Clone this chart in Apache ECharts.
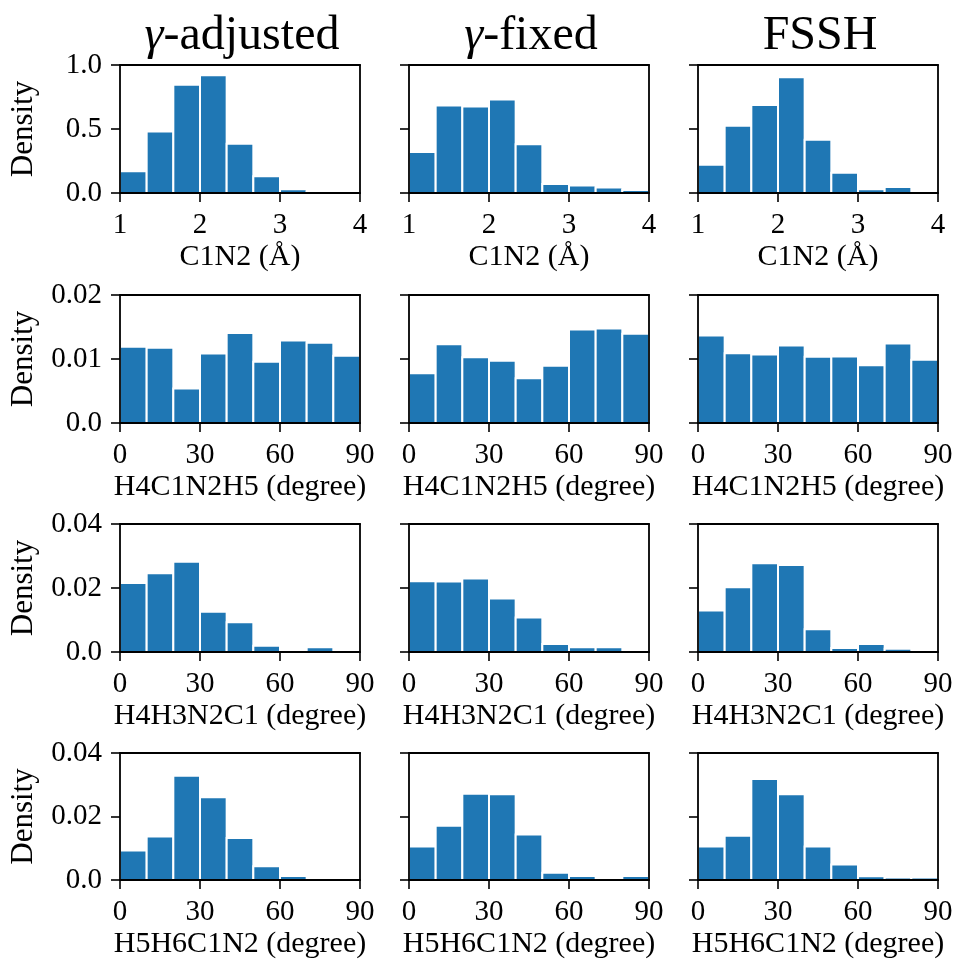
<!DOCTYPE html>
<html><head><meta charset="utf-8">
<script src="https://cdn.jsdelivr.net/npm/echarts@6/dist/echarts.min.js"></script>
<style>html,body{margin:0;padding:0;background:#fff}#c{width:956px;height:960px}</style>
</head><body><div id="c"></div>
<script>
// ---- data ----
var methods = ['γ-adjusted', 'γ-fixed', 'FSSH'];
var xNames = ['C1N2 (Å)', 'H4C1N2H5 (degree)', 'H4H3N2C1 (degree)', 'H5H6C1N2 (degree)'];
var edgesBond = [1, 1.3333, 1.6667, 2, 2.3333, 2.6667, 3, 3.3333, 3.6667, 4];
var edgesAngle = [0, 10, 20, 30, 40, 50, 60, 70, 80, 90];
var xTicksBond = [1, 2, 3, 4];
var xTicksAngle = [0, 30, 60, 90];
var yTicksR1 = ['0.0', '0.5', '1.0'];
var yTicksR2 = ['0.0', '0.01', '0.02'];
var yTicksR3 = ['0.0', '0.02', '0.04'];
var yTicksR4 = ['0.0', '0.02', '0.04'];

var c1n2_adjusted = [0.17, 0.48, 0.845, 0.92, 0.385, 0.13, 0.03, 0.01, 0];
var c1n2_fixed    = [0.32, 0.684, 0.676, 0.73, 0.38, 0.07, 0.058, 0.042, 0.024];
var c1n2_fssh     = [0.22, 0.526, 0.687, 0.905, 0.416, 0.158, 0.03, 0.047, 0];

var h4c1n2h5_adjusted = [0.0119, 0.01175, 0.0054, 0.01086, 0.01405, 0.00956, 0.0129, 0.01253, 0.0105];
var h4c1n2h5_fixed    = [0.00778, 0.01232, 0.01029, 0.00971, 0.0070, 0.00893, 0.01462, 0.01478, 0.01394];
var h4c1n2h5_fssh     = [0.01368, 0.01091, 0.0107, 0.01211, 0.01034, 0.01039, 0.00903, 0.01243, 0.00987];

var h4h3n2c1_adjusted = [0.02156, 0.02458, 0.02823, 0.0126, 0.00927, 0.00198, 0, 0.00146, 0];
var h4h3n2c1_fixed    = [0.0221, 0.0220, 0.0230, 0.0167, 0.0108, 0.0025, 0.00146, 0.00146, 0];
var h4h3n2c1_fssh     = [0.0130, 0.0202, 0.0277, 0.0272, 0.0071, 0.00125, 0.0025, 0.00104, 0];

var h5h6c1n2_adjusted = [0.00932, 0.01372, 0.0328, 0.0261, 0.0132, 0.0043, 0.00126, 0, 0];
var h5h6c1n2_fixed    = [0.01058, 0.01707, 0.0272, 0.0270, 0.01435, 0.0023, 0.00126, 0, 0.00126];
var h5h6c1n2_fssh     = [0.01058, 0.01393, 0.0318, 0.0270, 0.01058, 0.0049, 0.00115, 0.0008, 0.0008];

// ---- layout ----
var rows = [
  {edges: edgesBond, xTicks: xTicksBond, yTicks: yTicksR1, series: [c1n2_adjusted, c1n2_fixed, c1n2_fssh]},
  {edges: edgesAngle, xTicks: xTicksAngle, yTicks: yTicksR2, series: [h4c1n2h5_adjusted, h4c1n2h5_fixed, h4c1n2h5_fssh]},
  {edges: edgesAngle, xTicks: xTicksAngle, yTicks: yTicksR3, series: [h4h3n2c1_adjusted, h4h3n2c1_fixed, h4h3n2c1_fssh]},
  {edges: edgesAngle, xTicks: xTicksAngle, yTicks: yTicksR4, series: [h5h6c1n2_adjusted, h5h6c1n2_fixed, h5h6c1n2_fssh]}
];
var colLeft = [120, 409, 698];
var gridW = 240;
var rowTop = [65, 295, 524, 753];
var gridH = 128;
var FONT = '"Liberation Serif", "Times New Roman", serif';
var BLUE = '#1f77b4';

var option = {
  backgroundColor: '#fff',
  animation: false,
  textStyle: {fontFamily: FONT, color: '#000'},
  title: [], grid: [], xAxis: [], yAxis: [], series: []
};

methods.forEach(function (m, c) {
  var txt = m.indexOf('γ') === 0 ? '{g|γ}' + m.slice(1) : m;
  option.title.push({
    text: txt,
    left: colLeft[c] + gridW / 2 - 3,
    top: 7,
    textAlign: 'center',
    textStyle: {fontFamily: FONT, fontSize: 48, fontWeight: 'normal', color: '#000',
      rich: {g: {fontFamily: FONT, fontSize: 48, fontStyle: 'italic', color: '#000'}}}
  });
});

rows.forEach(function (row, r) {
  var yMax = parseFloat(row.yTicks[row.yTicks.length - 1]);
  var yInt = parseFloat(row.yTicks[1]);
  var xMin = row.edges[0], xMax = row.edges[row.edges.length - 1];
  var xInt = row.xTicks[1] - row.xTicks[0];
  for (var c = 0; c < 3; c++) {
    var gi = option.grid.length;
    option.grid.push({left: colLeft[c], top: rowTop[r], width: gridW, height: gridH, containLabel: false});
    var xi = option.xAxis.length, yi = option.yAxis.length;
    // bottom axis
    option.xAxis.push({
      type: 'value', gridIndex: gi, min: xMin, max: xMax, interval: xInt, z: 5,
      name: xNames[r], nameLocation: 'middle', nameGap: 49,
      nameTextStyle: {fontFamily: FONT, fontSize: 30, color: '#000'},
      axisLine: {show: true, onZero: false, lineStyle: {color: '#000', width: 1.8}},
      axisTick: {show: true, inside: false, length: 9, lineStyle: {color: '#000', width: 1.6}},
      axisLabel: {show: true, margin: 18, fontFamily: FONT, fontSize: 29, color: '#000',
        formatter: function (v) { return String(Math.round(v)); }},
      splitLine: {show: false}
    });
    // top spine
    option.xAxis.push({
      type: 'value', gridIndex: gi, position: 'top', min: xMin, max: xMax, z: 5,
      axisLine: {show: true, onZero: false, lineStyle: {color: '#000', width: 1.8}},
      axisTick: {show: false}, axisLabel: {show: false}, splitLine: {show: false}
    });
    var ticks = row.yTicks;
    option.yAxis.push({
      type: 'value', gridIndex: gi, min: 0, max: yMax, interval: yInt, z: 5,
      name: c === 0 ? 'Density' : '', nameLocation: 'middle', nameGap: 81,
      nameTextStyle: {fontFamily: FONT, fontSize: 31, color: '#000'},
      axisLine: {show: true, onZero: false, lineStyle: {color: '#000', width: 1.8}},
      axisTick: {show: true, inside: false, length: 9, lineStyle: {color: '#000', width: 1.6}},
      axisLabel: {show: c === 0, margin: 18, fontFamily: FONT, fontSize: 29, color: '#000',
        formatter: (function (t, step) { return function (v) { return t[Math.round(v / step)]; }; })(ticks, yInt)},
      splitLine: {show: false}
    });
    // right spine
    option.yAxis.push({
      type: 'value', gridIndex: gi, position: 'right', min: 0, max: yMax, z: 5,
      axisLine: {show: true, onZero: false, lineStyle: {color: '#000', width: 1.8}},
      axisTick: {show: false}, axisLabel: {show: false}, splitLine: {show: false}
    });
    var vals = row.series[c];
    var data = vals.map(function (h, i) { return [row.edges[i], row.edges[i + 1], h]; });
    option.series.push({
      type: 'custom', xAxisIndex: xi, yAxisIndex: yi, clip: true,
      encode: {x: [0, 1], y: 2},
      data: data,
      renderItem: function (params, api) {
        var h = api.value(2);
        if (!h) return null;
        var p0 = api.coord([api.value(0), h]);
        var p1 = api.coord([api.value(1), 0]);
        return {
          type: 'rect',
          shape: {x: p0[0], y: p0[1], width: p1[0] - p0[0], height: p1[1] - p0[1]},
          style: {fill: BLUE, stroke: '#fff', lineWidth: 2}
        };
      }
    });
  }
});

var chart = echarts.init(document.getElementById('c'), null, {renderer: 'canvas'});
chart.setOption(option);
</script>
</body></html>
